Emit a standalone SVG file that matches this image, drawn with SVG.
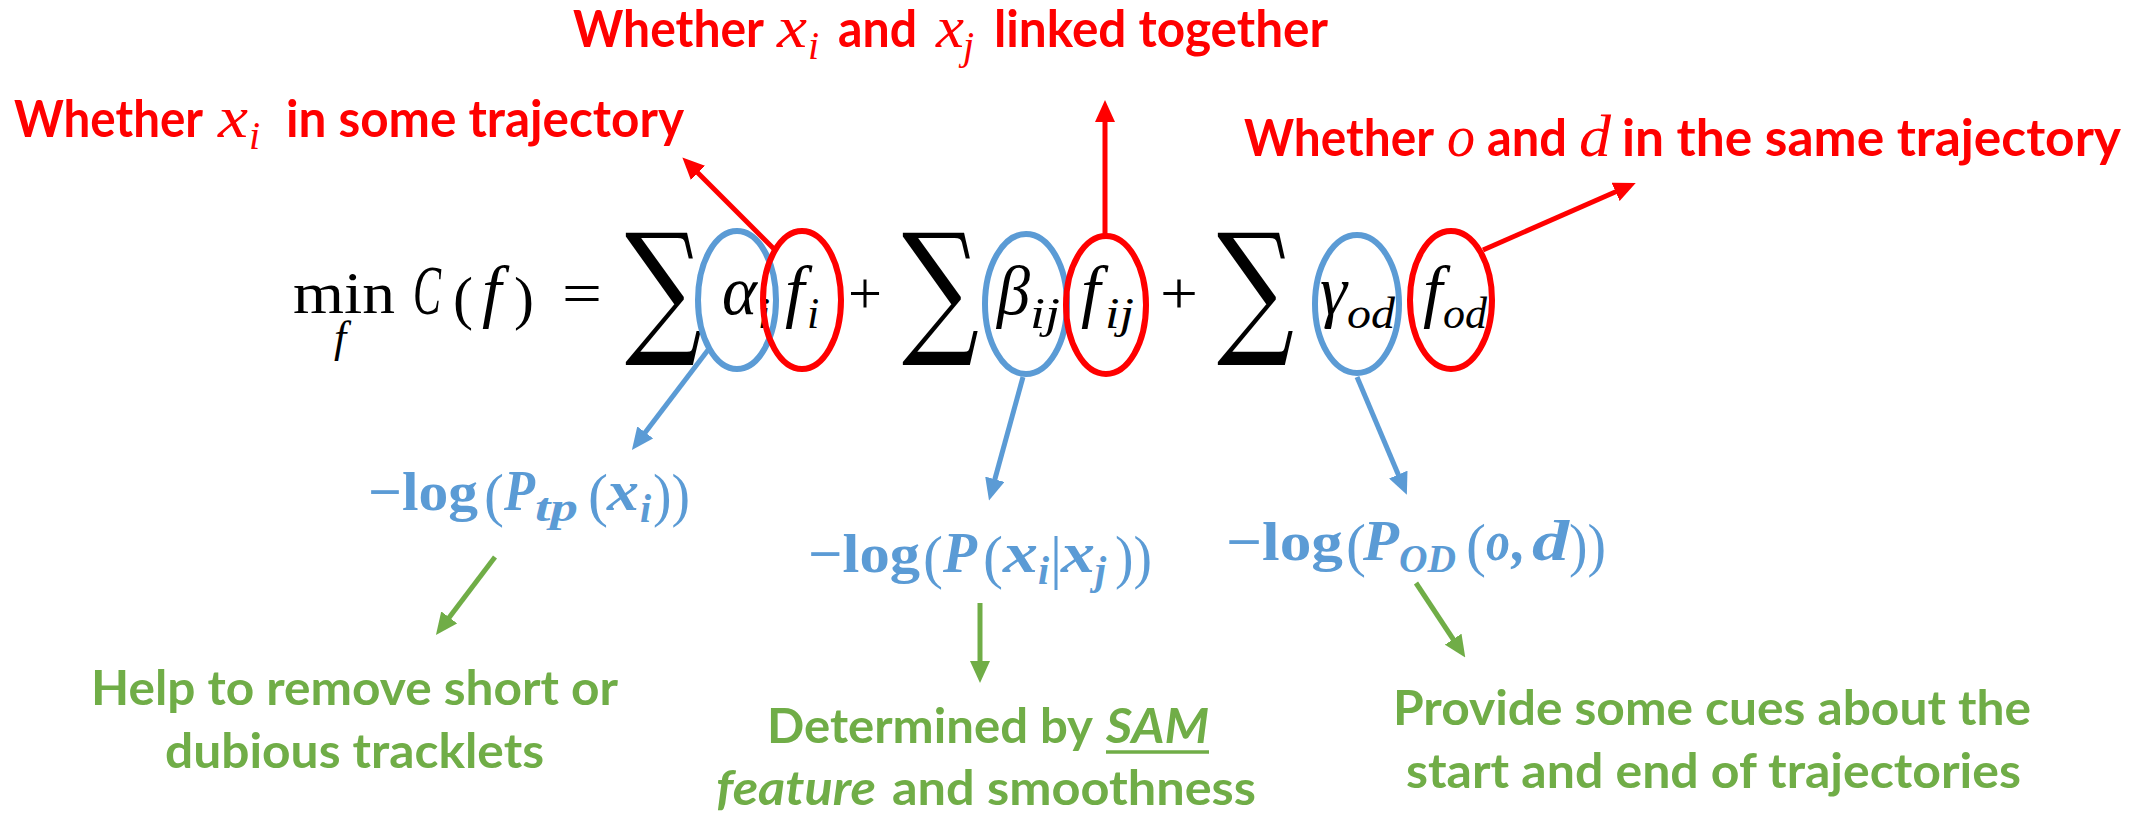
<svg xmlns="http://www.w3.org/2000/svg" width="2143" height="814" viewBox="0 0 2143 814">
<defs>
<style>
.rt{fill:#FF0000;font-family:Lato,"Liberation Sans",sans-serif;font-weight:700;font-size:52px}
.rm{fill:#FF0000;font-family:"Liberation Serif",serif;font-style:italic;font-size:60px}
.rs{fill:#FF0000;font-family:"Liberation Serif",serif;font-style:italic;font-size:40px}
.fm{fill:#000;font-family:"Liberation Serif",serif;font-size:60px}
.fi{fill:#000;font-family:"Liberation Serif",serif;font-style:italic;font-size:70px}
.fs{fill:#000;font-family:"Liberation Serif",serif;font-style:italic;font-size:44px}
.sig{fill:#000;font-family:"DejaVu Serif",serif;font-size:145px}
.bu{fill:#5B9BD5;font-family:"Liberation Serif",serif;font-weight:700;font-size:54px}
.bp{fill:#5B9BD5;font-family:"Liberation Serif",serif;font-size:60px}
.bi{fill:#5B9BD5;font-family:"Liberation Serif",serif;font-weight:700;font-style:italic;font-size:56px}
.bs{fill:#5B9BD5;font-family:"Liberation Serif",serif;font-weight:700;font-style:italic;font-size:40px}
.gt{fill:#70AD47;font-family:Lato,"Liberation Sans",sans-serif;font-weight:700;font-size:48px}
.gti{fill:#70AD47;font-family:Lato,"Liberation Sans",sans-serif;font-weight:700;font-style:italic;font-size:48px}
.er{fill:none;stroke:#FF0000;stroke-width:6}
.eb{fill:none;stroke:#5B9BD5;stroke-width:6}
.lr{fill:none;stroke:#FF0000;stroke-width:5;marker-end:url(#ar)}
.lb{fill:none;stroke:#5B9BD5;stroke-width:5;marker-end:url(#ab)}
.lg{fill:none;stroke:#70AD47;stroke-width:5;marker-end:url(#ag)}
</style>
<marker id="ar" viewBox="0 0 22 20" refX="7" refY="10" markerWidth="22" markerHeight="20" markerUnits="userSpaceOnUse" orient="auto"><path d="M0,0 L22,10 L0,20 z" fill="#FF0000"/></marker>
<marker id="ab" viewBox="0 0 22 20" refX="7" refY="10" markerWidth="22" markerHeight="20" markerUnits="userSpaceOnUse" orient="auto"><path d="M0,0 L22,10 L0,20 z" fill="#5B9BD5"/></marker>
<marker id="ag" viewBox="0 0 22 20" refX="7" refY="10" markerWidth="22" markerHeight="20" markerUnits="userSpaceOnUse" orient="auto"><path d="M0,0 L22,10 L0,20 z" fill="#70AD47"/></marker>
</defs>
<rect width="2143" height="814" fill="#FFFFFF"/>

<g id="formula">
<text class="fm" x="293" y="313" font-size="72" textLength="102" lengthAdjust="spacingAndGlyphs">min</text>
<text class="fs" x="334" y="352">f</text>
<text class="fi" x="413" y="314" font-size="52" textLength="28" lengthAdjust="spacingAndGlyphs">C</text>
<text class="fm" x="453" y="318" font-size="64">(</text>
<text class="fi" x="482" y="314">f</text>
<text class="fm" x="514" y="318" font-size="64">)</text>
<text class="fm" x="562" y="313" textLength="40" lengthAdjust="spacingAndGlyphs">=</text>
<text class="sig" x="625" y="337" textLength="77" lengthAdjust="spacingAndGlyphs">∑</text>
<text class="fi" x="722" y="314" textLength="35" lengthAdjust="spacingAndGlyphs">α</text>
<text class="fs" x="758" y="328">i</text>
<text class="fi" x="785" y="314">f</text>
<text class="fs" x="807" y="328">i</text>
<text class="fm" x="848" y="313" textLength="34" lengthAdjust="spacingAndGlyphs">+</text>
<text class="sig" x="902" y="337" textLength="77" lengthAdjust="spacingAndGlyphs">∑</text>
<text class="fi" x="997" y="314" font-size="62" textLength="33" lengthAdjust="spacingAndGlyphs">β</text>
<text class="fs" x="1030" y="328" textLength="30" lengthAdjust="spacingAndGlyphs">ij</text>
<text class="fi" x="1081" y="314">f</text>
<text class="fs" x="1105" y="328" textLength="29" lengthAdjust="spacingAndGlyphs">ij</text>
<text class="fm" x="1160" y="313" textLength="38" lengthAdjust="spacingAndGlyphs">+</text>
<text class="sig" x="1217" y="337" textLength="77" lengthAdjust="spacingAndGlyphs">∑</text>
<text class="fi" x="1320" y="314" font-size="66" textLength="27" lengthAdjust="spacingAndGlyphs">γ</text>
<text class="fs" x="1347" y="328" textLength="48" lengthAdjust="spacingAndGlyphs">od</text>
<text class="fi" x="1423" y="314">f</text>
<text class="fs" x="1443" y="328" textLength="44" lengthAdjust="spacingAndGlyphs">od</text>
</g>

<g id="ellipses">
<ellipse class="eb" cx="737" cy="300" rx="39" ry="69"/>
<ellipse class="er" cx="802" cy="300" rx="39" ry="69"/>
<ellipse class="eb" cx="1026" cy="304" rx="41" ry="70"/>
<ellipse class="er" cx="1106" cy="305" rx="40" ry="69"/>
<ellipse class="eb" cx="1357" cy="304" rx="42" ry="69"/>
<ellipse class="er" cx="1451" cy="300" rx="41" ry="69"/>
</g>

<g id="connectors">
<line class="lr" x1="775" y1="250" x2="693" y2="168"/>
<line class="lr" x1="1105" y1="236" x2="1105" y2="115"/>
<line class="lr" x1="1483" y1="250" x2="1622" y2="189"/>
<line class="lb" x1="708" y1="350" x2="641" y2="438"/>
<line class="lb" x1="1023" y1="377" x2="993" y2="486"/>
<line class="lb" x1="1357" y1="377" x2="1401" y2="481"/>
<line class="lg" x1="495" y1="557" x2="445" y2="623"/>
<line class="lg" x1="980" y1="603" x2="980" y2="668"/>
<line class="lg" x1="1416" y1="583" x2="1457" y2="645"/>
</g>

<g id="label-linked">
<text class="rt" x="573" y="47" textLength="191" lengthAdjust="spacingAndGlyphs">Whether</text>
<text class="rm" x="777" y="47" textLength="30" lengthAdjust="spacingAndGlyphs">x</text>
<text class="rs" x="808" y="59">i</text>
<text class="rt" x="838" y="47" textLength="79" lengthAdjust="spacingAndGlyphs">and</text>
<text class="rm" x="936" y="47" textLength="28" lengthAdjust="spacingAndGlyphs">x</text>
<text class="rs" x="963" y="59">j</text>
<text class="rt" x="994" y="47" textLength="334" lengthAdjust="spacingAndGlyphs">linked together</text>
</g>

<g id="label-in-trajectory">
<text class="rt" x="14" y="137" textLength="189" lengthAdjust="spacingAndGlyphs">Whether</text>
<text class="rm" x="218" y="137" textLength="30" lengthAdjust="spacingAndGlyphs">x</text>
<text class="rs" x="249" y="149">i</text>
<text class="rt" x="286" y="137" textLength="398" lengthAdjust="spacingAndGlyphs">in some trajectory</text>
</g>

<g id="label-same-trajectory">
<text class="rt" x="1244" y="156" textLength="190" lengthAdjust="spacingAndGlyphs">Whether</text>
<text class="rm" x="1447" y="156" textLength="28" lengthAdjust="spacingAndGlyphs">o</text>
<text class="rt" x="1487" y="156" textLength="80" lengthAdjust="spacingAndGlyphs">and</text>
<text class="rm" x="1579" y="156" textLength="32" lengthAdjust="spacingAndGlyphs">d</text>
<text class="rt" x="1622" y="156" textLength="499" lengthAdjust="spacingAndGlyphs">in the same trajectory</text>
</g>

<g id="cost-tp">
<text class="bu" x="368" y="510" textLength="110" lengthAdjust="spacingAndGlyphs">−log</text>
<text class="bp" x="484" y="515">(</text>
<text class="bi" x="504" y="510" textLength="31" lengthAdjust="spacingAndGlyphs">P</text>
<text class="bs" x="535" y="521" textLength="43" lengthAdjust="spacingAndGlyphs">tp</text>
<text class="bp" x="588" y="515">(</text>
<text class="bi" x="607" y="510" textLength="32" lengthAdjust="spacingAndGlyphs">x</text>
<text class="bs" x="640" y="522">i</text>
<text class="bp" x="653" y="515" textLength="37" lengthAdjust="spacingAndGlyphs">))</text>
</g>

<g id="cost-link">
<text class="bu" x="808" y="572" textLength="112" lengthAdjust="spacingAndGlyphs">−log</text>
<text class="bp" x="923" y="577">(</text>
<text class="bi" x="943" y="572" textLength="34" lengthAdjust="spacingAndGlyphs">P</text>
<text class="bp" x="983" y="577">(</text>
<text class="bi" x="1003" y="572" textLength="35" lengthAdjust="spacingAndGlyphs">x</text>
<text class="bs" x="1038" y="584">i</text>
<text class="bp" x="1050" y="577">|</text>
<text class="bi" x="1061" y="572" textLength="34" lengthAdjust="spacingAndGlyphs">x</text>
<text class="bs" x="1095" y="584">j</text>
<text class="bp" x="1115" y="577" textLength="37" lengthAdjust="spacingAndGlyphs">))</text>
</g>

<g id="cost-od">
<text class="bu" x="1226" y="560" textLength="117" lengthAdjust="spacingAndGlyphs">−log</text>
<text class="bp" x="1346" y="565">(</text>
<text class="bi" x="1363" y="560" textLength="36" lengthAdjust="spacingAndGlyphs">P</text>
<text class="bs" x="1399" y="572" textLength="57" lengthAdjust="spacingAndGlyphs">OD</text>
<text class="bp" x="1466" y="565">(</text>
<text class="bi" x="1486" y="560" font-size="64" textLength="24" lengthAdjust="spacingAndGlyphs">o</text>
<text class="bi" x="1512" y="560">,</text>
<text class="bi" x="1532" y="560" textLength="37" lengthAdjust="spacingAndGlyphs">d</text>
<text class="bp" x="1569" y="565" textLength="37" lengthAdjust="spacingAndGlyphs">))</text>
</g>

<g id="note-tp">
<text class="gt" x="91" y="705" textLength="527" lengthAdjust="spacingAndGlyphs">Help to remove short or</text>
<text class="gt" x="165" y="768" textLength="379" lengthAdjust="spacingAndGlyphs">dubious tracklets</text>
</g>

<g id="note-link">
<text class="gt" x="767" y="743" textLength="326" lengthAdjust="spacingAndGlyphs">Determined by</text>
<text class="gti" x="1106" y="743" textLength="103" lengthAdjust="spacingAndGlyphs">SAM</text>
<line x1="1106" y1="752" x2="1209" y2="752" stroke="#70AD47" stroke-width="3.5"/>
<text class="gti" x="716" y="805" textLength="160" lengthAdjust="spacingAndGlyphs">feature</text>
<text class="gt" x="892" y="805" textLength="364" lengthAdjust="spacingAndGlyphs">and smoothness</text>
</g>

<g id="note-od">
<text class="gt" x="1393" y="725" textLength="638" lengthAdjust="spacingAndGlyphs">Provide some cues about the</text>
<text class="gt" x="1406" y="788" textLength="615" lengthAdjust="spacingAndGlyphs">start and end of trajectories</text>
</g>
</svg>
